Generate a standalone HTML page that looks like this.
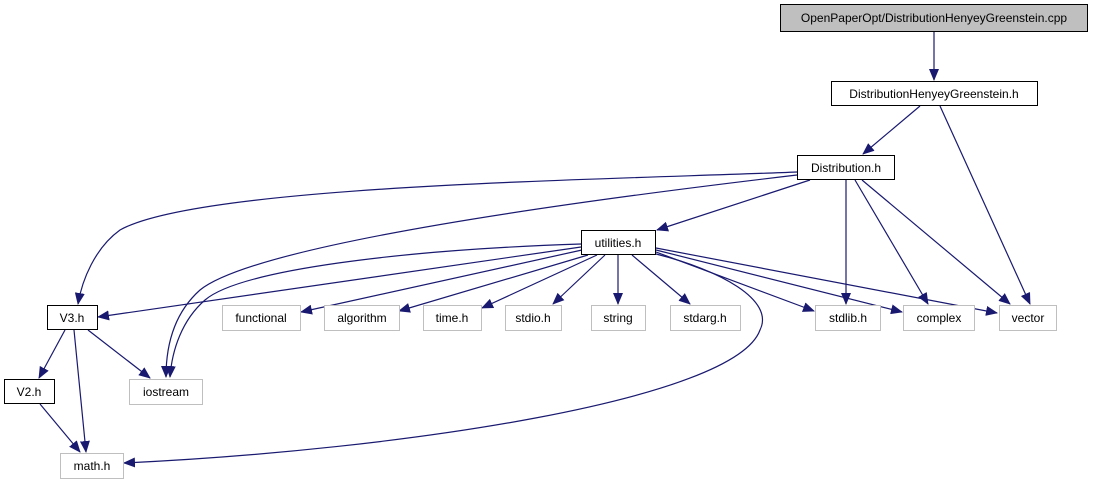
<!DOCTYPE html>
<html><head><meta charset="utf-8"><style>
body{margin:0;background:#fff;width:1095px;height:485px;overflow:hidden}
svg{display:block}
text{font-family:"Liberation Sans",sans-serif;font-size:12px;fill:#000}
</style></head><body>
<svg width="1095" height="485" viewBox="0 0 1095 485">
<defs><marker id="a" markerWidth="12" markerHeight="10" refX="11" refY="5" orient="auto" markerUnits="userSpaceOnUse"><path d="M0,0 L12,5 L0,10 z" fill="#191970"/></marker></defs>
<g fill="none" stroke="#191970" stroke-width="1.2" marker-end="url(#a)">
<path d="M934,32 L934,80"/>
<path d="M920,106 L863,154"/>
<path d="M940,106 L1030,304"/>
<path d="M810,180 L657,230"/>
<path d="M846,180 L846,304"/>
<path d="M855,180 L928,304"/>
<path d="M862,180 L1010,304"/>
<path d="M797,172 C600,180 200,185 120,230 C95,248 82,280 78,304"/>
<path d="M797,175 C500,210 250,250 200,290 C172,315 166,350 166,377"/>
<path d="M581,247 L98,317"/>
<path d="M581,244 C400,250 240,270 205,300 C182,320 172,350 170,377"/>
<path d="M582,250 L301,312"/>
<path d="M588,255 L399,311"/>
<path d="M597,255 L482,308"/>
<path d="M605,255 L553,304"/>
<path d="M618,255 L618,304"/>
<path d="M632,255 L690,304"/>
<path d="M656,252 L814,311"/>
<path d="M656,250 L902,312"/>
<path d="M656,248 L997,313"/>
<path d="M656,254 C720,270 775,300 760,330 C735,400 400,450 124,463"/>
<path d="M65,330 L39,378"/>
<path d="M74,330 L86,452"/>
<path d="M88,330 L150,378"/>
<path d="M40,404 L80,452"/>
</g>
<g stroke-width="1">
<rect x="780.5" y="4.5" width="307" height="27" fill="#bfbfbf" stroke="#000"/>
<g fill="#fff" stroke="#000">
<rect x="831.5" y="81.5" width="206" height="24"/>
<rect x="797.5" y="155.5" width="97" height="24"/>
<rect x="581.5" y="230.5" width="74" height="24"/>
<rect x="47.5" y="305.5" width="50" height="24"/>
<rect x="4.5" y="379.5" width="50" height="24"/>
</g>
<g fill="#fff" stroke="#bfbfbf">
<rect x="222.5" y="305.5" width="78" height="25"/>
<rect x="324.5" y="305.5" width="75" height="25"/>
<rect x="423.5" y="305.5" width="58" height="25"/>
<rect x="505.5" y="305.5" width="56" height="25"/>
<rect x="591.5" y="305.5" width="54" height="25"/>
<rect x="670.5" y="305.5" width="70" height="25"/>
<rect x="815.5" y="305.5" width="65" height="25"/>
<rect x="903.5" y="305.5" width="71" height="25"/>
<rect x="999.5" y="305.5" width="57" height="25"/>
<rect x="129.5" y="379.5" width="73" height="25"/>
<rect x="60.5" y="453.5" width="63" height="25"/>
</g>
</g>
<g text-anchor="middle">
<text x="934" y="22">OpenPaperOpt/DistributionHenyeyGreenstein.cpp</text>
<text x="934" y="98">DistributionHenyeyGreenstein.h</text>
<text x="846" y="172">Distribution.h</text>
<text x="618" y="247">utilities.h</text>
<text x="72" y="322">V3.h</text>
<text x="29" y="396">V2.h</text>
<text x="261" y="322">functional</text>
<text x="362" y="322">algorithm</text>
<text x="452" y="322">time.h</text>
<text x="533" y="322">stdio.h</text>
<text x="618" y="322">string</text>
<text x="705" y="322">stdarg.h</text>
<text x="848" y="322">stdlib.h</text>
<text x="939" y="322">complex</text>
<text x="1028" y="322">vector</text>
<text x="166" y="396">iostream</text>
<text x="92" y="470">math.h</text>
</g>
</svg>
</body></html>
